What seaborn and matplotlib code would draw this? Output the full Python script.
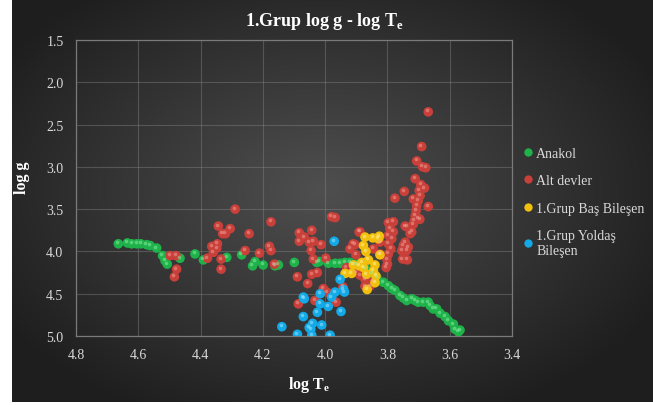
import numpy as np
import pandas as pd
import matplotlib
matplotlib.use("Agg")
import matplotlib.pyplot as plt
import matplotlib.transforms as mtransforms
import seaborn as sns

# data (log Te, log g)
anakol_x = [4.664, 4.635, 4.621, 4.605, 4.592, 4.573, 4.562, 4.541, 4.522, 4.514, 4.507,
            4.466, 4.418, 4.391, 4.316, 4.268, 4.233, 4.225, 4.199, 4.161, 4.150, 4.099,
            4.027, 4.019, 3.990, 3.968, 3.952, 3.936, 3.920, 3.900, 3.870, 3.850, 3.834,
            3.813, 3.797, 3.786, 3.776, 3.760, 3.749, 3.738, 3.722, 3.711, 3.701, 3.685,
            3.669, 3.663, 3.653, 3.642, 3.631, 3.615, 3.604, 3.588, 3.583, 3.572, 3.567]
anakol_y = [3.91, 3.90, 3.91, 3.91, 3.91, 3.92, 3.93, 3.96, 4.05, 4.11, 4.15,
            4.08, 4.03, 4.10, 4.07, 4.04, 4.17, 4.12, 4.16, 4.17, 4.16, 4.13,
            4.13, 4.12, 4.14, 4.14, 4.14, 4.13, 4.13, 4.15, 4.20, 4.26, 4.31,
            4.365, 4.405, 4.44, 4.46, 4.52, 4.55, 4.58, 4.56, 4.58, 4.60, 4.60,
            4.60, 4.64, 4.68, 4.68, 4.73, 4.77, 4.82, 4.86, 4.92, 4.95, 4.93]

altdev_x = [4.289, 4.343, 4.305, 4.329, 4.320, 4.244, 4.174, 4.364, 4.346, 4.348, 4.359,
            4.378, 4.334, 4.334, 4.257, 4.211, 4.179, 4.174, 4.163, 4.498, 4.479, 4.477,
            4.484, 4.083, 4.067, 4.083, 4.043, 4.051, 4.038, 4.045, 4.013, 4.038, 3.998,
            4.089, 4.043, 4.025, 4.056, 4.006, 3.995, 4.033, 4.086, 3.965, 3.979, 3.968,
            3.920, 3.904, 3.891, 3.901, 3.931, 3.943, 3.899, 3.888, 3.872, 3.845, 3.872,
            3.856, 3.845, 3.824, 3.824, 3.888, 3.910,
            3.669, 3.690, 3.706, 3.687, 3.677, 3.711, 3.693, 3.681, 3.698, 3.695, 3.701,
            3.706, 3.708, 3.711, 3.714, 3.746, 3.776, 3.717, 3.669, 3.701, 3.696, 3.743,
            3.738, 3.717, 3.722, 3.727,
            3.797, 3.781, 3.792, 3.781, 3.797, 3.786, 3.797, 3.789, 3.797, 3.802, 3.800,
            3.804, 3.743, 3.749, 3.733, 3.754, 3.738, 3.751, 3.736]
altdev_y = [3.50, 3.70, 3.73, 3.79, 3.79, 3.79, 3.65, 3.94, 3.91, 3.96, 4.01,
            4.08, 4.09, 4.21, 3.99, 4.02, 3.94, 3.99, 4.15, 4.05, 4.05, 4.21,
            4.30, 3.78, 3.83, 3.88, 3.75, 3.89, 3.88, 3.99, 3.92, 4.09, 4.08,
            4.30, 4.27, 4.25, 4.38, 4.44, 4.48, 4.58, 4.62, 4.60, 3.59, 3.60,
            3.97, 3.92, 3.77, 4.04, 4.19, 4.42, 4.25, 4.28, 4.33, 4.35, 4.41,
            4.41, 3.97, 3.89, 4.03, 3.77, 3.91,
            2.35, 2.76, 2.93, 3.00, 3.01, 3.14, 3.21, 3.25, 3.28, 3.34, 3.40,
            3.46, 3.52, 3.58, 3.64, 3.29, 3.37, 3.38, 3.47, 3.61, 3.62, 3.70,
            3.71, 3.68, 3.77, 3.79,
            3.66, 3.65, 3.73, 3.77, 3.81, 3.85, 3.91, 3.97, 4.03, 4.09, 4.15,
            4.19, 3.89, 3.93, 3.95, 3.99, 3.99, 4.09, 4.10]

bas_x = [3.872, 3.847, 3.826, 3.829, 3.877, 3.869, 3.824, 3.861, 3.882, 3.909,
         3.890, 3.877, 3.840, 3.845, 3.936, 3.915, 3.867, 3.837, 3.865, 3.840]
bas_y = [3.83, 3.84, 3.82, 3.85, 3.93, 4.00, 4.04, 4.10, 4.13, 4.16,
         4.17, 4.19, 4.16, 4.23, 4.26, 4.26, 4.27, 4.29, 4.45, 4.37]

yol_x = [3.971, 3.952, 4.070, 4.067, 4.016, 3.968, 3.938, 3.941, 3.979, 4.016, 3.990,
         4.025, 3.949, 4.070, 4.040, 4.011, 4.051, 4.046, 4.139, 4.089, 4.043, 3.984]
yol_y = [3.88, 4.33, 4.54, 4.56, 4.50, 4.48, 4.48, 4.45, 4.54, 4.62, 4.65,
         4.72, 4.71, 4.77, 4.85, 4.87, 4.90, 4.92, 4.89, 4.98, 4.99, 4.99]

series = ["Anakol", "Alt devler", "1.Grup Baş Bileşen", "1.Grup Yoldaş\nBileşen"]
colors = ["#1fb24a", "#c9403a", "#f2c00c", "#12a9e6"]
highlights = ["#8ff0a8", "#f3a49c", "#fff2a0", "#a8e8ff"]

df = pd.concat([
    pd.DataFrame({"logT": anakol_x, "logg": anakol_y, "grup": series[0]}),
    pd.DataFrame({"logT": altdev_x, "logg": altdev_y, "grup": series[1]}),
    pd.DataFrame({"logT": bas_x, "logg": bas_y, "grup": series[2]}),
    pd.DataFrame({"logT": yol_x, "logg": yol_y, "grup": series[3]}),
])

plt.rcParams["font.family"] = ["Liberation Serif", "DejaVu Serif"]
plt.rcParams["mathtext.fontset"] = "custom"
plt.rcParams["mathtext.rm"] = "Liberation Serif"
plt.rcParams["mathtext.bf"] = "Liberation Serif:bold"

fig = plt.figure(figsize=(6.53, 4.06), dpi=100, facecolor="white")

# dark radial gradient background panel
bg = fig.add_axes([12 / 653, 3 / 406, 641 / 653, 403 / 406])
gx, gy = np.meshgrid(np.linspace(-1, 1, 400), np.linspace(-1, 1, 260))
r = np.sqrt(((gx + 0.03) / 1.05) ** 2 + ((gy + 0.05) / 1.1) ** 2)
shade = np.clip(0.31 - 0.17 * r, 0.12, 0.32)
bg.imshow(np.dstack([shade, shade, shade]), aspect="auto", extent=[0, 1, 0, 1])
bg.set_axis_off()

ax = fig.add_axes([76 / 653, 69 / 406, 436 / 653, 296 / 406])
ax.set_facecolor("none")

pal = dict(zip(series, colors))
sns.scatterplot(data=df, x="logT", y="logg", hue="grup", palette=pal, s=48,
                edgecolor=None, linewidth=0, ax=ax, legend=False, zorder=3)

# small shine on each ball
shift = mtransforms.ScaledTranslation(-1.2 / 100, 1.5 / 100, fig.dpi_scale_trans)
for name, hc in zip(series, highlights):
    sub = df[df["grup"] == name]
    ax.scatter(sub["logT"], sub["logg"], s=7, color=hc, alpha=0.5, linewidth=0,
               transform=ax.transData + shift, zorder=4)

ax.set_xlim(4.8, 3.4)
ax.set_ylim(5.0, 1.5)
ax.set_xticks(np.arange(3.4, 4.81, 0.2))
ax.set_yticks(np.arange(1.5, 5.01, 0.5))
ax.xaxis.set_major_formatter(matplotlib.ticker.FormatStrFormatter("%.1f"))
ax.yaxis.set_major_formatter(matplotlib.ticker.FormatStrFormatter("%.1f"))
ax.grid(True, color="#8a8a8a", linewidth=0.8, alpha=0.4, zorder=0)
ax.set_axisbelow(True)
for sp in ax.spines.values():
    sp.set_color("#7a7a7a")
    sp.set_linewidth(0.9)
ax.tick_params(length=0, colors="#d9d9d9", labelsize=10, pad=9)

ax.set_xlabel(r"log T$_{\mathbf{e}}$", color="white", fontsize=11.5, fontweight="bold")
ax.xaxis.set_label_coords(0.534, -0.13)
ax.set_ylabel("log g", color="white", fontsize=11.5, fontweight="bold")
ax.yaxis.set_label_coords(-0.105, 0.537)

fig.text(324 / 653, 1 - 22 / 406, r"1.Grup log g - log T$_{\mathbf{e}}$", color="white",
         fontsize=13, fontweight="bold", ha="center", va="center")

handles = [plt.Line2D([], [], marker="o", linestyle="", markersize=6,
                      markerfacecolor=c, markeredgewidth=0) for c in colors]
leg = fig.legend(handles, series, loc="upper left", bbox_to_anchor=(518 / 653, 1 - 142 / 406),
                 frameon=False, fontsize=10, labelspacing=1.05, handlelength=0.6,
                 handletextpad=0.3, borderaxespad=0)
for t in leg.get_texts():
    t.set_color("#d9d9d9")

fig.savefig("out.png", dpi=100, facecolor="white")
